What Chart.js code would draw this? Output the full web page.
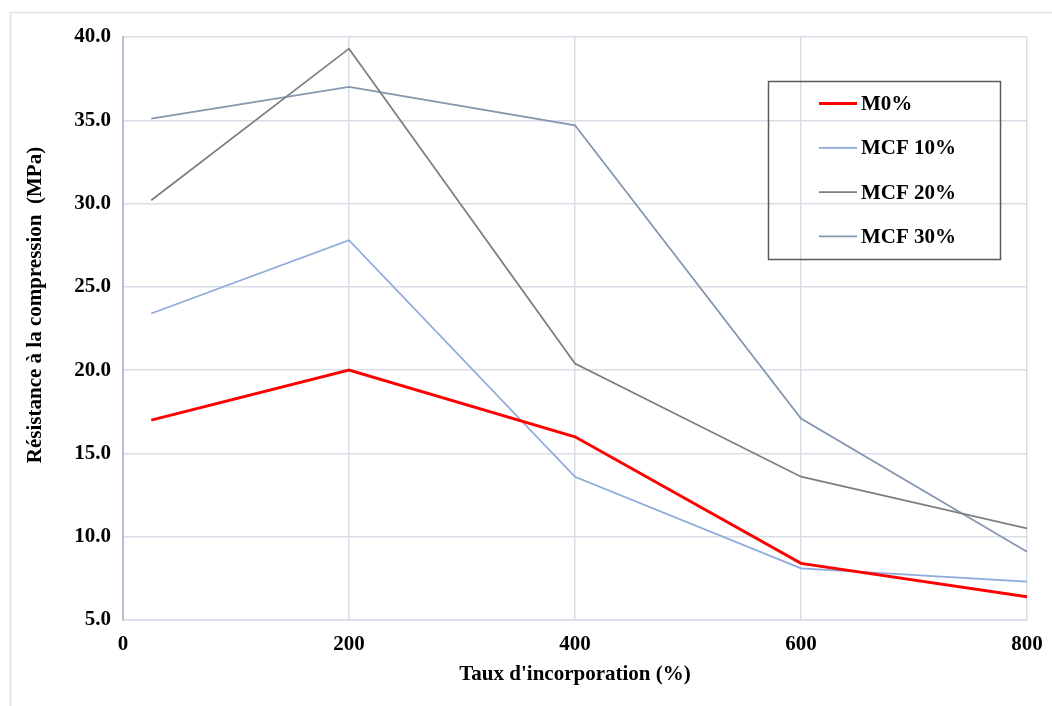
<!DOCTYPE html>
<html>
<head>
<meta charset="utf-8">
<script src="https://cdn.jsdelivr.net/npm/chart.js@4.4.1/dist/chart.umd.min.js"></script>
<style>
  html, body { margin: 0; padding: 0; background: #fff; overflow: hidden; }
  #wrap { width: 1052px; height: 706px; position: relative; }
</style>
</head>
<body>
<div id="wrap"><canvas id="lineChart" width="1052" height="706"></canvas></div>
<script>
const tauxIncorporation = [25, 200, 400, 600, 800];
const seriesLabels = ["M0%", "MCF 10%", "MCF 20%", "MCF 30%"];
const m0 = [17.0, 20.0, 16.0, 8.4, 6.4];
const mcf10 = [23.4, 27.8, 13.6, 8.1, 7.3];
const mcf20 = [30.2, 39.3, 20.4, 13.6, 10.5];
const mcf30 = [35.1, 37.0, 34.7, 17.1, 9.1];

const FONT = "'Liberation Serif', 'Times New Roman', serif";
const GRID = "#D8DDE7";

const toPoints = (values) => values.map((v, i) => ({ x: tauxIncorporation[i], y: v }));

// axis titles + boxed legend drawn by hand
const decorations = {
  id: "decorations",
  beforeDraw(chart) {
    const ctx = chart.ctx;
    ctx.save();
    ctx.strokeStyle = "#DCE1EA";
    ctx.lineWidth = 1.5;
    ctx.strokeRect(10.5, 12.5, 1200, 900);
    ctx.restore();
  },
  afterDraw(chart) {
    const ctx = chart.ctx;
    const area = chart.chartArea;
    ctx.save();
    ctx.fillStyle = "#000";
    ctx.font = "bold 21px " + FONT;
    ctx.textAlign = "center";
    ctx.textBaseline = "middle";
    ctx.fillText("Taux d'incorporation (%)", (area.left + area.right) / 2, 675);

    ctx.save();
    ctx.translate(36, 305);
    ctx.rotate(-Math.PI / 2);
    ctx.fillText("Résistance à la compression  (MPa)", 0, 0);
    ctx.restore();

    // legend box
    ctx.strokeStyle = "#5A5A5A";
    ctx.lineWidth = 1.5;
    ctx.strokeRect(768.5, 81.5, 232, 178);
    ctx.textAlign = "left";
    chart.data.datasets.forEach((ds, i) => {
      const y = 103.5 + i * 44.3;
      ctx.strokeStyle = ds.borderColor;
      ctx.lineWidth = ds.borderWidth;
      ctx.beginPath();
      ctx.moveTo(819, y);
      ctx.lineTo(857, y);
      ctx.stroke();
      ctx.fillStyle = "#000";
      ctx.fillText(ds.label, 861, y + 1);
    });
    ctx.restore();
  }
};

const ctx = document.getElementById("lineChart").getContext("2d");

new Chart(ctx, {
  type: "line",
  data: {
    datasets: [
      { label: seriesLabels[0], data: toPoints(m0), borderColor: "#FF0000", borderWidth: 3 },
      { label: seriesLabels[1], data: toPoints(mcf10), borderColor: "#8EAADB", borderWidth: 1.8 },
      { label: seriesLabels[2], data: toPoints(mcf20), borderColor: "#7F7F7F", borderWidth: 1.8 },
      { label: seriesLabels[3], data: toPoints(mcf30), borderColor: "#8497B0", borderWidth: 1.8 }
    ]
  },
  options: {
    responsive: false,
    animation: false,
    events: [],
    elements: {
      point: { radius: 0 },
      line: { tension: 0 }
    },
    layout: {
      padding: { left: 0, top: 37, right: 25, bottom: 0 }
    },
    plugins: {
      legend: { display: false },
      tooltip: { enabled: false }
    },
    scales: {
      x: {
        type: "linear",
        min: 0,
        max: 800,
        afterFit: (scale) => {
          scale.height = 86;
          scale.paddingLeft = 0;
          scale.paddingRight = 0;
        },
        ticks: {
          stepSize: 200,
          padding: 12,
          color: "#000",
          font: { family: FONT, size: 21, weight: "bold" }
        },
        grid: { color: GRID, lineWidth: 1.5, drawTicks: false },
        border: { color: GRID, width: 1.5 }
      },
      y: {
        min: 5,
        max: 40,
        afterFit: (scale) => { scale.width = 123; },
        ticks: {
          stepSize: 5,
          padding: 12,
          color: "#000",
          font: { family: FONT, size: 21, weight: "bold" },
          callback: (value) => value.toFixed(1)
        },
        grid: { color: GRID, lineWidth: 1.5, drawTicks: false },
        border: { color: "#B4C0D4", width: 2 }
      }
    }
  },
  plugins: [decorations]
});
</script>
</body>
</html>
